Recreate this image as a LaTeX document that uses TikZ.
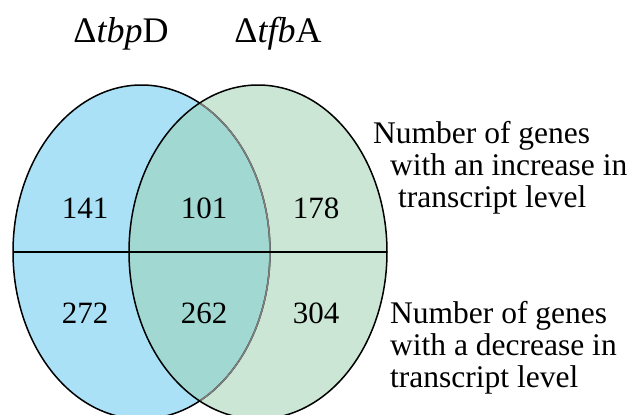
\documentclass[tikz,border=0pt]{standalone}
\usepackage{fontspec}
\setmainfont{Liberation Serif}
\definecolor{leftblue}{HTML}{ABE1F7}
\definecolor{rightgreen}{HTML}{CCE6D5}
\definecolor{overlapteal}{HTML}{A1D9D2}
\definecolor{edgegray}{HTML}{808080}
\tikzset{
  numlbl/.style={anchor=base, inner sep=0pt, font=\fontsize{31}{34}\selectfont},
  title/.style={anchor=base, inner sep=0pt, font=\fontsize{36}{40}\selectfont},
  sidetext/.style={anchor=base west, inner sep=0pt, font=\fontsize{31.5}{34}\selectfont},
  outline/.style={line width=1.5pt}
}
\begin{document}
\begin{tikzpicture}[x=1pt,y=-1pt]
\useasboundingbox (0,0) rectangle (635,415);
\clip (0,0) rectangle (635,415);
% fills
\fill[leftblue] (141.5,252) ellipse [x radius=128.5, y radius=167];
\fill[rightgreen] (258,252) ellipse [x radius=129, y radius=167];
\begin{scope}
  \clip (141.5,252) ellipse [x radius=128.5, y radius=167];
  \fill[overlapteal] (258,252) ellipse [x radius=129, y radius=167];
\end{scope}
% outlines
\draw[outline, black] (141.5,252) ellipse [x radius=128.5, y radius=167];
\begin{scope}
  \clip (258,252) ellipse [x radius=129, y radius=167];
  \draw[outline, edgegray] (141.5,252) ellipse [x radius=128.5, y radius=167];
\end{scope}
\draw[outline, black] (258,252) ellipse [x radius=129, y radius=167];
\coordinate (hl) at (13,252);
\coordinate (hr) at (387,252);
\draw[line width=1.3pt] (hl) -- (hr);
% titles
\node[title] (tA) at (121,42) {Δ\textit{tbp}D};
\node[title] (tB) at (278,42) {Δ\textit{tfb}A};
% numbers
\node[numlbl] (n141) at (85,218) {141};
\node[numlbl] (n101) at (204,218) {101};
\node[numlbl] (n178) at (316,218) {178};
\node[numlbl] (n272) at (85,323) {272};
\node[numlbl] (n262) at (204,323) {262};
\node[numlbl] (n304) at (316,323) {304};
% side texts
\node[sidetext] (up1) at (373,143) {Number of genes};
\node[sidetext] (up2) at (390,175) {with an increase in};
\node[sidetext] (up3) at (398,207) {transcript level};
\node[sidetext] (dn1) at (390,323) {Number of genes};
\node[sidetext] (dn2) at (390,355) {with a decrease in};
\node[sidetext] (dn3) at (390,387) {transcript level};
\end{tikzpicture}
\end{document}
